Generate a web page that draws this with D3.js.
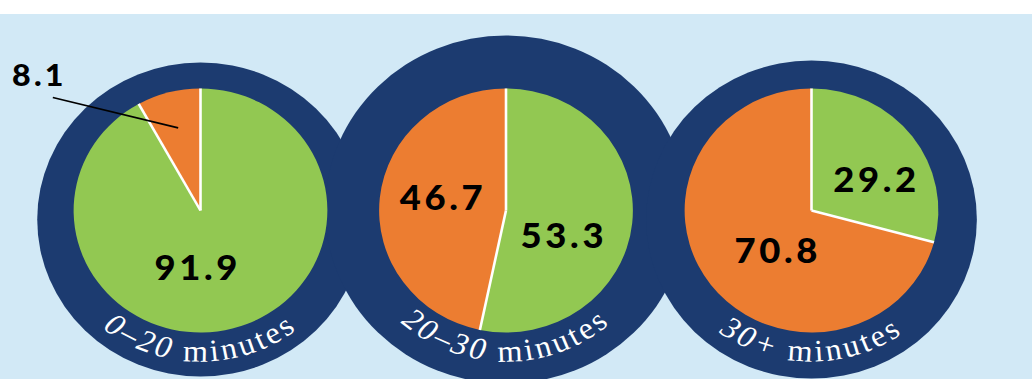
<!DOCTYPE html>
<html>
<head>
<meta charset="utf-8">
<script src="https://cdn.jsdelivr.net/npm/d3@7"></script>
<style>
  body { margin: 0; background: #ffffff; }
  svg { display: block; }
</style>
</head>
<body>
<script>
// data
var groups = ['0–20', '20–30', '30+'];
var unitLabel = 'minutes';
var greenValues = [91.9, 53.3, 29.2];
var orangeValues = [8.1, 46.7, 70.8];

// layout
var width = 1032, height = 379;
var pieR = 122, sx = 1.04, pieCY = 210.5;
var ringR = [157, 174, 159];     // navy ring radius per group
var ringDY = [9, -1, 9];         // ring center offset below the pie
var textR = pieR + 29;           // baseline of the curved label
var colors = { green: '#92c852', orange: '#ec7d31' };
var navy = '#1c3b70';
// small nudges from the slice centroid (local units) for the value labels
var labelNudge = [
    [[-18, 10], null],
    [[-5, 31], [0, 6]],
    [[14, 19], [16, 15]]
];

var svg = d3.select('body')
    .append('svg')
    .attr('width', width)
    .attr('height', height);

// backgrund
svg.append('rect').attr('width', width).attr('height', height).attr('fill', '#d2e9f6');
svg.append('rect').attr('width', width).attr('height', 14).attr('fill', '#ffffff');

var xScale = d3.scalePoint()
    .domain(groups)
    .range([200.5, 811.5]);

var pie = d3.pie().sort(null).value(function(d) { return d.value; });
var arc = d3.arc().innerRadius(0).outerRadius(pieR);
var labelArc = d3.arc().innerRadius(pieR * 0.5).outerRadius(pieR * 0.5);
var calloutArc = d3.arc().innerRadius(pieR * 0.7).outerRadius(pieR * 0.7);

function groupTransform(i) {
    return 'translate(' + xScale(groups[i]) + ',' + pieCY + ') scale(' + sx + ',1)';
}

// navy rings first so the pies sit on top
groups.forEach(function(name, i) {
    svg.append('g')
        .attr('transform', groupTransform(i))
        .append('circle')
        .attr('cx', 0)
        .attr('cy', ringDY[i])
        .attr('r', ringR[i])
        .attr('fill', navy);
});

groups.forEach(function(name, i) {
    var g = svg.append('g').attr('transform', groupTransform(i));
    var data = [
        { key: 'green', value: greenValues[i] },
        { key: 'orange', value: orangeValues[i] }
    ];
    var arcs = pie(data);

    g.selectAll('path.slice').data(arcs)
        .enter()
        .append('path')
        .attr('class', 'slice')
        .attr('d', arc)
        .attr('fill', function(d) { return colors[d.data.key]; });

    // white dividers
    g.selectAll('line.sep').data(arcs)
        .enter()
        .append('line')
        .attr('x1', 0).attr('y1', 0)
        .attr('x2', function(d) { return pieR * Math.sin(d.startAngle); })
        .attr('y2', function(d) { return -pieR * Math.cos(d.startAngle); })
        .attr('stroke', '#ffffff')
        .attr('stroke-width', 2.5);

    // value labels
    arcs.forEach(function(d, j) {
        var nudge = labelNudge[i][j];
        if (nudge) {
            var c = labelArc.centroid(d);
            g.append('text')
                .attr('x', c[0] + nudge[0])
                .attr('y', c[1] + nudge[1])
                .attr('text-anchor', 'middle')
                .attr('font-family', 'Lato, sans-serif')
                .attr('font-weight', 900)
                .attr('font-size', 35)
                .attr('letter-spacing', 3.5)
                .attr('fill', '#000')
                .text(d.data.value.toFixed(1));
        } else {
            // small slice: callout outside the pie
            var e = calloutArc.centroid(d);
            var s = [-142, -113];
            g.append('line')
                .attr('x1', s[0]).attr('y1', s[1])
                .attr('x2', e[0]).attr('y2', e[1])
                .attr('stroke', '#000')
                .attr('stroke-width', 1.6);
            g.append('text')
                .attr('x', s[0] - 13)
                .attr('y', s[1] - 12)
                .attr('text-anchor', 'middle')
                .attr('font-family', 'Lato, sans-serif')
                .attr('font-weight', 900)
                .attr('font-size', 31)
                .attr('letter-spacing', 3)
                .attr('fill', '#000')
                .text(d.data.value.toFixed(1));
        }
    });

    // curved label along the bottom of the ring
    g.append('path')
        .attr('id', 'curve' + i)
        .attr('fill', 'none')
        .attr('d', 'M' + (-textR) + ',0 A' + textR + ',' + textR + ' 0 0,0 ' + textR + ',0');

    var t = g.append('text')
        .attr('font-family', '"Liberation Serif", serif')
        .attr('font-size', 31)
        .attr('letter-spacing', 3)
        .attr('fill', '#ffffff')
        .append('textPath')
        .attr('href', '#curve' + i)
        .attr('startOffset', '50%')
        .attr('text-anchor', 'middle');
    t.append('tspan').attr('font-style', 'italic').text(name);
    t.append('tspan').text(' ' + unitLabel);
});
</script>
</body>
</html>
